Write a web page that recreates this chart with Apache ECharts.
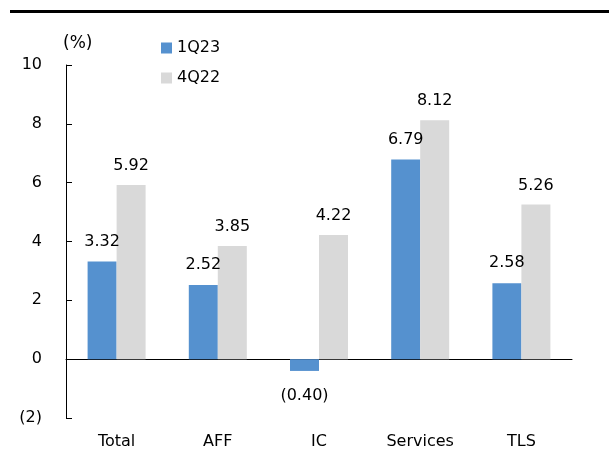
<!DOCTYPE html>
<html>
<head>
<meta charset="utf-8">
<script src="https://cdn.jsdelivr.net/npm/echarts@6/dist/echarts.min.js"></script>
<style>
  html, body { margin: 0; padding: 0; background: #fff; }
  #chart { width: 609px; height: 450px; }
</style>
</head>
<body>
<div id="chart"></div>
<script>
// chart data
const categories = ['Total', 'AFF', 'IC', 'Services', 'TLS']
const q1_23 = [3.32, 2.52, -0.40, 6.79, 2.58]
const q4_22 = [5.92, 3.85, 4.22, 8.12, 5.26]
const yTicks = [-2, 0, 2, 4, 6, 8, 10]

const FONT = '"DejaVu Sans", sans-serif'
const BLUE = '#5591CF'
const GREY = '#D9D9D9'

// negatives shown in parentheses, like the source deck
const fmt = (v) => (v < 0 ? `(${Math.abs(v).toFixed(2)})` : v.toFixed(2))
const fmtAxis = (v) => (v < 0 ? `(${Math.abs(v)})` : `${v}`)

const chart = echarts.init(document.getElementById('chart'))

const barLabel = {
  show: true,
  fontFamily: FONT,
  fontSize: 16,
  color: '#000',
  formatter: (p) => fmt(p.value),
}

const option = {
  animation: false,
  textStyle: { fontFamily: FONT },
  graphic: [
    {
      type: 'rect',
      shape: { x: 10, y: 10, width: 599, height: 3 },
      style: { fill: '#000' },
    },
    {
      type: 'text',
      left: 63,
      top: 35,
      style: { text: '(%)', font: `17px ${FONT}`, fill: '#000' },
    },
  ],
  legend: {
    orient: 'vertical',
    left: 156,
    top: 35,
    itemWidth: 11,
    itemHeight: 11,
    itemGap: 14,
    icon: 'rect',
    textStyle: { fontFamily: FONT, fontSize: 16, color: '#000' },
    data: ['1Q23', '4Q22'],
  },
  grid: { left: 66, right: 37, top: 65, bottom: 31 },
  xAxis: [
    {
      type: 'category',
      data: categories,
      axisLine: { onZero: true, lineStyle: { color: '#000', width: 1 } },
      axisTick: { inside: true, length: 5, lineStyle: { color: '#000' } },
      axisLabel: { show: false },
    },
    {
      type: 'category',
      data: categories,
      position: 'bottom',
      axisLine: { show: false },
      axisTick: { show: false },
      axisLabel: { margin: 16, fontFamily: FONT, fontSize: 16, color: '#000' },
    },
  ],
  yAxis: {
    type: 'value',
    min: yTicks[0],
    max: yTicks[yTicks.length - 1],
    interval: 2,
    splitLine: { show: false },
    axisLine: { show: true, lineStyle: { color: '#000', width: 1 } },
    axisTick: { show: true, inside: true, length: 6, lineStyle: { color: '#000' } },
    axisLabel: {
      margin: 24,
      fontFamily: FONT,
      fontSize: 16,
      color: '#000',
      formatter: fmtAxis,
    },
  },
  series: [
    {
      name: '1Q23',
      type: 'bar',
      data: q1_23.map((v) => ({
        value: v,
        label: v < 0 ? { position: 'bottom', distance: 17 } : { position: 'top', distance: 12 },
      })),
      itemStyle: { color: BLUE },
      barWidth: 29,
      barGap: '0%',
      label: barLabel,
    },
    {
      name: '4Q22',
      type: 'bar',
      data: q4_22,
      itemStyle: { color: GREY },
      barWidth: 29,
      barGap: '0%',
      label: { ...barLabel, position: 'top', distance: 11 },
    },
  ],
}

chart.setOption(option)
</script>
</body>
</html>
